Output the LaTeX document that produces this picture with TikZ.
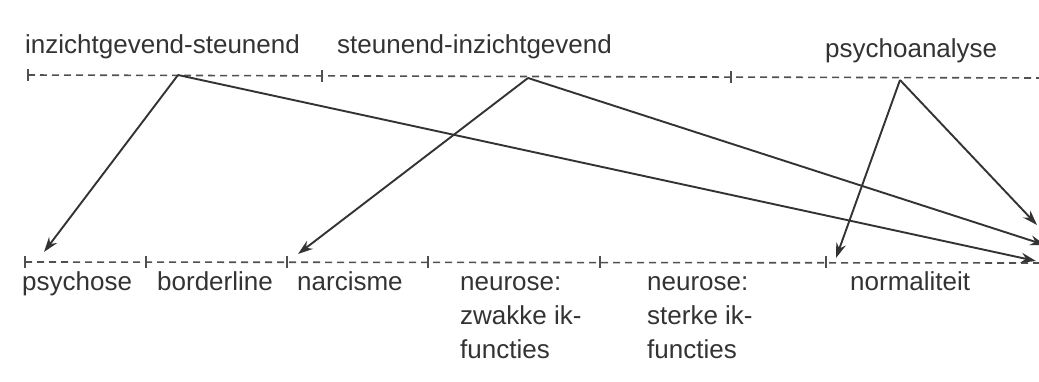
\documentclass[tikz,border=0pt]{standalone}
\usepackage{fontspec}
\setmainfont{Liberation Sans}
\usetikzlibrary{arrows.meta}
\definecolor{ink}{HTML}{333333}
\definecolor{dashink}{HTML}{505050}
\begin{document}
\begin{tikzpicture}[x=1pt,y=-1pt,
  lbl/.style={anchor=base west,inner sep=0pt,text=ink,font=\fontsize{26}{34}\selectfont},
  scaleline/.style={draw=dashink,line width=1.6pt,dash pattern=on 7pt off 5pt},
  tickmark/.style={draw=dashink,line width=1.8pt},
  arr/.style={draw=ink,line width=1.9pt,-{Stealth[length=15pt,width=10pt]}}]
\useasboundingbox (0,0) rectangle (1039,381);
\clip (0,0) rectangle (1039,381);
\fill[white] (0,0) rectangle (1039,381);
% top scale
\draw[scaleline] (28,75) -- (1039,78);
\foreach \x/\y in {28/75,322/76,731/77}{\draw[tickmark] (\x,\y-6) -- (\x,\y+6);}
% bottom scale
\draw[scaleline] (25,262) -- (1039,263);
\foreach \x in {25,146,287,428,600,826}{\draw[tickmark] (\x,256) -- (\x,268);}
% top labels
\node[lbl] (is) at (25,53) {inzichtgevend-steunend};
\node[lbl] (si) at (337,53) {steunend-inzichtgevend};
\node[lbl] (pa) at (825,57) {psychoanalyse};
% bottom labels
\node[lbl] (ps) at (22,290) {psychose};
\node[lbl] (bo) at (157,290) {borderline};
\node[lbl] (na) at (297,290) {narcisme};
\node[lbl,align=left] (nz) at (460,358) {neurose:\\zwakke ik-\\functies};
\node[lbl,align=left] (ns) at (647,358) {neurose:\\sterke ik-\\functies};
\node[lbl] (no) at (850,290) {normaliteit};
% arrow origins and ends
\coordinate (oA) at (178,75);
\coordinate (oB) at (528,78);
\coordinate (oC) at (900,80);
\coordinate (ePs) at (44,252);
\coordinate (eNa) at (298,254);
\coordinate (eNo) at (836,258);
\coordinate (eR1) at (1037,225);
\coordinate (eR2) at (1045,245);
\coordinate (eR3) at (1036,261);
\draw[arr] (oA) -- (ePs);
\draw[arr] (oA) -- (eR3);
\draw[arr] (oB) -- (eNa);
\draw[arr] (oB) -- (eR2);
\draw[arr] (oC) -- (eNo);
\draw[arr] (oC) -- (eR1);
\end{tikzpicture}
\end{document}
